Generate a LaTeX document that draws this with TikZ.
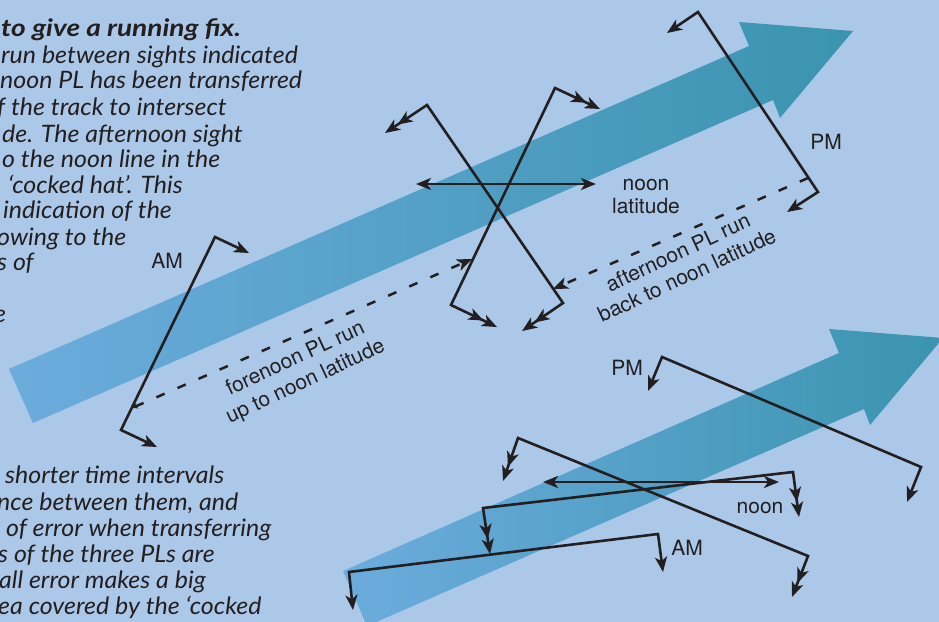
\documentclass[tikz,border=0pt]{standalone}
\usepackage{fontspec}
\setmainfont{Lato}
\newfontfamily\bodyfont{Lato}[FakeStretch=1.04]
\newfontfamily\boldfont{Lato}[FakeStretch=1.17]
\newfontfamily\lblfont{TeX Gyre Heros}
\usetikzlibrary{arrows.meta}
\definecolor{bgblue}{HTML}{ABC8E8}
\definecolor{bgmid}{HTML}{C6DAF0}
\definecolor{bgwhite}{HTML}{F6F9FD}
\definecolor{trackA}{HTML}{6CACDD}
\definecolor{trackB}{HTML}{58A2CC}
\definecolor{trackC}{HTML}{3A94AF}
\definecolor{ink}{HTML}{231F20}
\pgfdeclareradialshading{bgshade}{\pgfpoint{0bp}{0bp}}{color(0bp)=(bgblue); color(40bp)=(bgblue); color(47bp)=(bgmid); color(64bp)=(bgwhite); color(80bp)=(bgwhite)}
\tikzset{
  pl/.style={draw=ink, line width=2.6pt, line join=miter},
  dsh/.style={draw=ink, line width=2.5pt, dash pattern=on 9pt off 14pt},
  track/.style={left color=trackA, middle color=trackB, right color=trackC, draw=none},
  body/.style={anchor=base west, inner sep=0pt, text=ink, font=\bodyfont\fontsize{24}{26}\selectfont\itshape},
  bodyb/.style={body, font=\boldfont\fontsize{24}{26}\selectfont\bfseries\itshape},
  lbl/.style={anchor=base, inner sep=0pt, text=ink, font=\lblfont\fontsize{21}{24}\selectfont},
  >={Stealth[length=15pt,width=12pt,inset=4pt]}
}
\begin{document}
\begin{tikzpicture}[x=1pt,y=-1pt]
\useasboundingbox (0,0) rectangle (939,621);
\begin{scope}
\clip (0,0) rectangle (939,621);
\shade[shading=bgshade] (-40,-30) rectangle (1000,660);

% upper track arrow
\shade[track] (9,369) -- (749,46) -- (739,22) -- (853,31) -- (780,118) -- (773,100) -- (33,423) -- cycle;
% lower track arrow
\shade[track] (343,571) -- (839,353) -- (829,329) -- (943,338) -- (870,425) -- (864,409) -- (367,626) -- cycle;

% ---------- upper diagram coordinates
\coordinate (amT1) at (249,253);
\coordinate (am1) at (215,237);
\coordinate (am2) at (121,430);
\coordinate (amT2) at (157,447);
\coordinate (aT1) at (600,109);
\coordinate (a1) at (555,88);
\coordinate (a2) at (451,305);
\coordinate (aT2) at (497,327);
\coordinate (bT1) at (385,133);
\coordinate (b1) at (427,105);
\coordinate (b2) at (563,303);
\coordinate (bT2) at (522,331);
\coordinate (pmT1) at (667,33);
\coordinate (pm1) at (698,12);
\coordinate (pm2) at (818,192);
\coordinate (pmT2) at (787,212);
\coordinate (nA) at (416,184);
\coordinate (nB) at (596,184);
\coordinate (fo1) at (132,408);
\coordinate (fo2) at (472,259);
\coordinate (af1) at (808,178);
\coordinate (af2) at (553,289);

\draw[pl,<->] (amT1) -- (am1) -- (am2) -- (amT2);
\draw[pl,<->] (pmT1) -- (pm1) -- (pm2) -- (pmT2);
\draw[pl,<<->>] (aT1) -- (a1) -- (a2) -- (aT2);
\draw[pl,<<->>] (bT1) -- (b1) -- (b2) -- (bT2);
\draw[pl,<->] (nA) -- (nB);
\draw[dsh,{Stealth[length=6pt,width=6pt,inset=2pt]}->] (fo1) -- (fo2);
\draw[dsh,->] (af1) -- (af2);

% ---------- lower diagram coordinates
\coordinate (qT1) at (648,391);
\coordinate (q1) at (662,357);
\coordinate (q2) at (921,467);
\coordinate (qT2) at (907,502);
\coordinate (rT1) at (503,481);
\coordinate (r1) at (518,438);
\coordinate (r2) at (808,556);
\coordinate (rT2) at (792,597);
\coordinate (sT1) at (799,517);
\coordinate (s1) at (793,472);
\coordinate (s2) at (483,508);
\coordinate (sT2) at (490,554);
\coordinate (tT1) at (663,572);
\coordinate (t1) at (658,534);
\coordinate (t2) at (349,572);
\coordinate (tT2) at (353,610);
\coordinate (mA) at (543,482);
\coordinate (mB) at (779,482);

\draw[pl,<->] (qT1) -- (q1) -- (q2) -- (qT2);
\draw[pl,<<->>] (rT1) -- (r1) -- (r2) -- (rT2);
\draw[pl,<<->>] (sT1) -- (s1) -- (s2) -- (sT2);
\draw[pl,<->] (tT1) -- (t1) -- (t2) -- (tT2);
\draw[pl,<->] (mA) -- (mB);

% ---------- labels
\node[lbl] (lAM) at (167,268) {AM};
\node[lbl] (lPM) at (826,149) {PM};
\node[lbl] (lnoon) at (646,190) {noon};
\node[lbl] (llat) at (646,213) {latitude};
\node[lbl,rotate=25] (laf1) at (681,259) {afternoon PL run};
\node[lbl,rotate=25] (laf2) at (690,282) {back to noon latitude};
\node[lbl,rotate=25] (lfo1) at (298,364) {forenoon PL run};
\node[lbl,rotate=25] (lfo2) at (308,387) {up to noon latitude};
\node[lbl] (lPM2) at (627,375) {PM};
\node[lbl] (lnoon2) at (760,513) {noon};
\node[lbl] (lAM2) at (687,555) {AM};

% ---------- body text (cut at the left edge)
\node[bodyb] (t0) at (1,36) {to give a running fix.};
\node[body] (t1) at (1,63) {run between sights indicated};
\node[body] (t2) at (0,88) {noon PL has been transferred};
\node[body] (t3) at (-3,115) {f the track to intersect};
\node[body] (t4) at (2,142) {de. The afternoon sight};
\node[body] (t5) at (2,167) {o the noon line in the};
\node[body] (t6) at (8,193) {‘cocked hat’. This};
\node[body] (t7) at (3,218) {indication of the};
\node[body] (t8) at (-3,245) {owing to the};
\node[body] (t9) at (-3,270) {s of};
\node[body] (t11) at (-6,322) {e};
\node[body] (u0) at (5,483) {shorter time intervals};
\node[body] (u1) at (-3,510) {nce between them, and};
\node[body] (u2) at (6,536) {of error when transferring};
\node[body] (u3) at (-2,562) {s of the three PLs are};
\node[body] (u4) at (-1,588) {all error makes a big};
\node[body] (u5) at (-2,614) {ea covered by the ‘cocked};
\end{scope}
\end{tikzpicture}
\end{document}
